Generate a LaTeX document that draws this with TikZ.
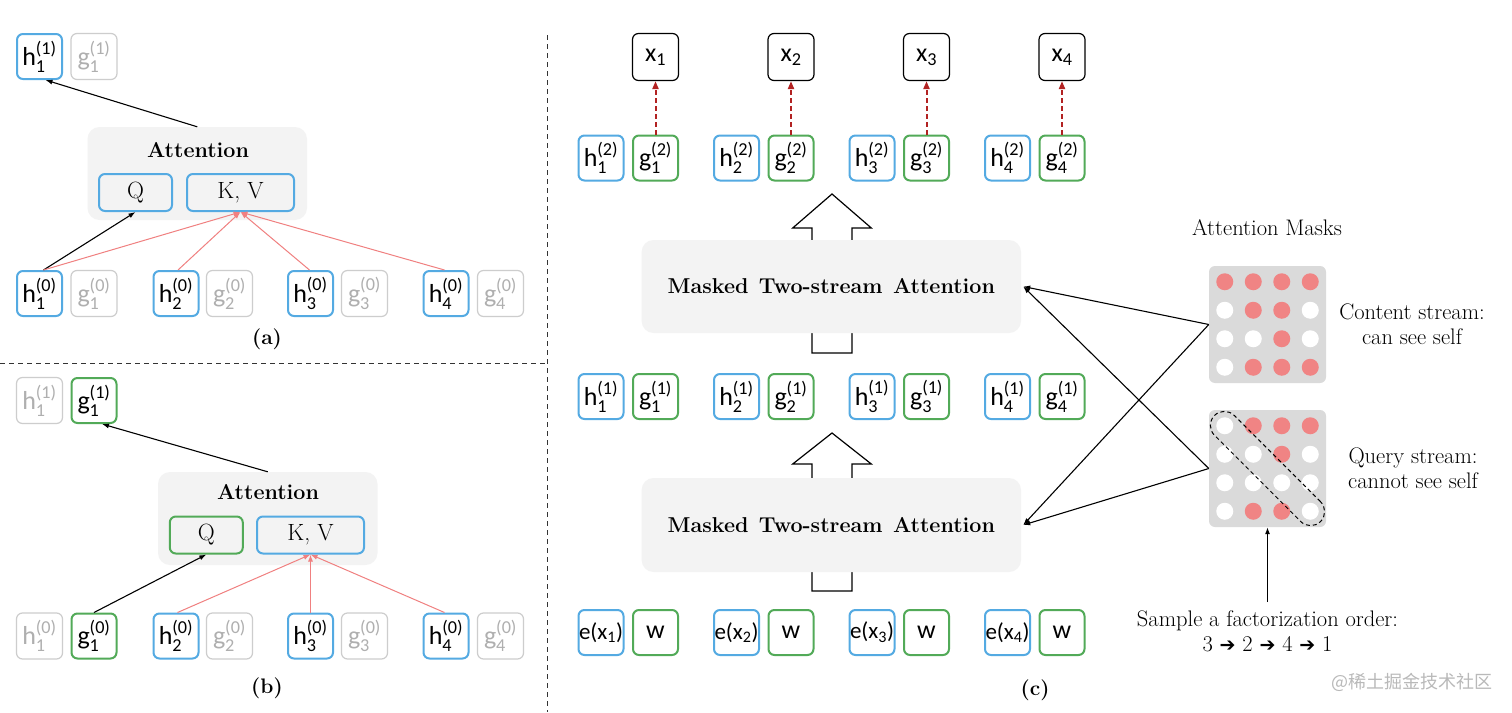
\documentclass[tikz,border=0pt]{standalone}
\usepackage{fontspec}
\usepackage{amsmath}
\usetikzlibrary{arrows.meta,calc}
\newfontfamily\boxf{Carlito}
\newfontfamily\cjkf{Noto Sans CJK SC}
\newfontfamily\djvf{DejaVu Sans}
\definecolor{cblue}{RGB}{84,170,226}
\definecolor{cgreen}{RGB}{82,170,88}
\definecolor{cgrayline}{RGB}{205,205,205}
\definecolor{cgraytext}{RGB}{175,175,175}
\definecolor{csalmon}{RGB}{240,128,128}
\definecolor{cdot}{RGB}{240,132,132}
\definecolor{cmask}{RGB}{218,218,218}
\definecolor{cattn}{RGB}{243,243,243}
\definecolor{cdred}{RGB}{178,34,34}
\definecolor{cwm}{RGB}{185,185,185}
\newcommand\hg[3]{#1$^{\text{#3}}_{\text{#2}}$}
\newcommand\rarr{{\djvf\fontsize{19}{22}\selectfont ➔}}
\begin{document}
\begin{tikzpicture}[x=1pt,y=-1pt,
 every node/.style={inner sep=0pt},
 tok/.style={rectangle, rounded corners=6pt, minimum width=45pt, minimum height=45pt, line width=2pt, font=\boxf\fontsize{26}{30}\selectfont},
 hbox/.style={tok, draw=cblue},
 gbox/.style={tok, draw=cgreen},
 offbox/.style={tok, draw=cgrayline, line width=1.2pt, text=cgraytext, minimum width=46pt, minimum height=46pt},
 xbox/.style={tok, draw=black, line width=1.2pt, minimum width=46pt, minimum height=47pt},
 qkv/.style={rectangle, rounded corners=6pt, line width=2pt, minimum height=37pt, font=\fontsize{23.5}{27}\selectfont},
 attnbg/.style={rectangle, rounded corners=12pt, fill=cattn},
 ttl/.style={font=\bfseries\fontsize{21.5}{25}\selectfont},
 lbl/.style={font=\fontsize{22.5}{25}\selectfont, align=center},
 captxt/.style={font=\bfseries\fontsize{21}{25}\selectfont},
 blk/.style={-{Latex[length=7pt,width=5pt]}, line width=1.1pt},
 sal/.style={-{Latex[length=7pt,width=5pt]}, line width=1pt, draw=csalmon},
 rdash/.style={-{Triangle[length=8pt,width=6pt]}, line width=2pt, draw=cdred, dash pattern=on 5pt off 3pt},
 hollow/.style={draw=black, fill=white, line width=1.2pt, line join=miter},
 sep/.style={line width=1pt, draw=black!80, dash pattern=on 5pt off 4pt},
 maskbg/.style={rectangle, rounded corners=6pt, fill=cmask, minimum width=117pt, minimum height=117pt},
]
\fill[white] (0,0) rectangle (1512,712);
\useasboundingbox (0,0) rectangle (1512,712);

% separators
\coordinate (s1) at (547.5,35);
\coordinate (s2) at (547.5,712);
\coordinate (s3) at (0,363);
\coordinate (s4) at (547.5,363);
\draw[sep] (s1) -- (s2);
\draw[sep] (s3) -- (s4);

% ---------------- panel (a)
\node[attnbg, minimum width=219.5pt, minimum height=93pt] (attA) at (197.25,173.5) {};
\node[ttl] (attAt) at (198,150) {Attention};
\node[qkv, draw=cblue, minimum width=73pt] (qA) at (135.5,192.5) {Q};
\node[qkv, draw=cblue, minimum width=107pt] (kvA) at (240.5,192.5) {K, V};
\node[hbox] (ahT) at (39.5,56.5) {\hg{h}{1}{(1)}};
\node[offbox] (agT) at (94,56.5) {\hg{g}{1}{(1)}};
\node[hbox] (ah1) at (39.5,293.5) {\hg{h}{1}{(0)}};
\node[offbox] (ag1) at (94,293.5) {\hg{g}{1}{(0)}};
\node[hbox] (ah2) at (176,293.5) {\hg{h}{2}{(0)}};
\node[offbox] (ag2) at (229.5,293.5) {\hg{g}{2}{(0)}};
\node[hbox] (ah3) at (310.5,293.5) {\hg{h}{3}{(0)}};
\node[offbox] (ag3) at (364.5,293.5) {\hg{g}{3}{(0)}};
\node[hbox] (ah4) at (446,293.5) {\hg{h}{4}{(0)}};
\node[offbox] (ag4) at (500.5,293.5) {\hg{g}{4}{(0)}};
\draw[blk] (attA.north) -- ([xshift=6pt]ahT.south);
\draw[blk] ([xshift=4pt]ah1.north) -- (qA.south);
\draw[sal] ([xshift=4pt]ah1.north) -- (kvA.south);
\draw[sal] ([xshift=2pt]ah2.north) -- (kvA.south);
\draw[sal] ([xshift=-1pt]ah3.north) -- (kvA.south);
\draw[sal] ([xshift=-1.5pt]ah4.north) -- (kvA.south);
\node[captxt] (capa) at (267,339) {(a)};

% ---------------- panel (b)
\node[attnbg, minimum width=219.5pt, minimum height=93pt] (attB) at (267.75,518.5) {};
\node[ttl] (attBt) at (268,492) {Attention};
\node[qkv, draw=cgreen, minimum width=73pt] (qB) at (206.3,535) {Q};
\node[qkv, draw=cblue, minimum width=107pt] (kvB) at (310.5,535) {K, V};
\node[offbox] (bhT) at (39.5,400.5) {\hg{h}{1}{(1)}};
\node[gbox] (bgT) at (94,400.5) {\hg{g}{1}{(1)}};
\node[offbox] (bh1) at (39.5,636) {\hg{h}{1}{(0)}};
\node[gbox] (bg1) at (94,636) {\hg{g}{1}{(0)}};
\node[hbox] (bh2) at (176,636) {\hg{h}{2}{(0)}};
\node[offbox] (bg2) at (229.5,636) {\hg{g}{2}{(0)}};
\node[hbox] (bh3) at (310.5,636) {\hg{h}{3}{(0)}};
\node[offbox] (bg3) at (364.5,636) {\hg{g}{3}{(0)}};
\node[hbox] (bh4) at (446,636) {\hg{h}{4}{(0)}};
\node[offbox] (bg4) at (500.5,636) {\hg{g}{4}{(0)}};
\draw[blk] (attB.north) -- ([xshift=8pt]bgT.south);
\draw[blk] (bg1.north) -- (qB.south);
\draw[sal] ([xshift=1.5pt]bh2.north) -- (kvB.south);
\draw[sal] (bh3.north) -- (kvB.south);
\draw[sal] ([xshift=-1.5pt]bh4.north) -- (kvB.south);
\node[captxt] (capb) at (267,688) {(b)};

% ---------------- panel (c)
\draw[hollow] (812,353) -- (812,228) -- (792.7,228) -- (832,194) -- (871.3,228) -- (852,228) -- (852,353) -- cycle;
\draw[hollow] (812,591) -- (812,464) -- (792.7,464) -- (832,433) -- (871.3,464) -- (852,464) -- (852,591) -- cycle;
\node[attnbg, minimum width=379.4pt, minimum height=93pt, ttl] (mt1) at (831.3,286.5) {Masked\hspace{10.5pt}Two-stream\hspace{10.5pt}Attention};
\node[attnbg, minimum width=379.4pt, minimum height=94pt, ttl] (mt2) at (831.3,525) {Masked\hspace{10.5pt}Two-stream\hspace{10.5pt}Attention};

\foreach \i/\xh in {1/601,2/736.5,3/872,4/1007.5} {
  \pgfmathsetmacro\xg{\xh+54.5}
  \node[xbox] (cx\i) at (\xg,57) {x$_{\text{\i}}$};
  \node[hbox] (ch2\i) at (\xh,158) {\hg{h}{\i}{(2)}};
  \node[gbox] (cg2\i) at (\xg,158) {\hg{g}{\i}{(2)}};
  \draw[rdash] (cg2\i.north) -- (cx\i.south);
  \node[hbox] (ch1\i) at (\xh,396.5) {\hg{h}{\i}{(1)}};
  \node[gbox] (cg1\i) at (\xg,396.5) {\hg{g}{\i}{(1)}};
  \node[hbox, font=\boxf\fontsize{23}{27}\selectfont] (ce\i) at (\xh,632.5) {e(x$_{\text{\i}}$)};
  \node[gbox] (cw\i) at (\xg,632.5) {w};
}
\node[captxt] (capc) at (1035,690) {(c)};

% masks
\node[lbl] (amt) at (1267,228) {Attention Masks};
\node[maskbg] (mk1) at (1267.5,324.5) {};
\node[maskbg] (mk2) at (1267.5,468.5) {};
\foreach \pat [count=\r] in {{1,1,1,1},{0,1,1,0},{0,0,1,0},{0,1,1,1}} {
  \foreach \v [count=\c] in \pat {
    \ifnum\v=1 \def\dc{cdot}\else\def\dc{white}\fi
    \fill[\dc] ($(mk1.center)+(\c*28.5-71.25,\r*28.5-71.25)$) circle (8.5pt);
  }
}
\foreach \pat [count=\r] in {{0,1,1,1},{0,0,1,0},{0,0,0,0},{0,1,1,0}} {
  \foreach \v [count=\c] in \pat {
    \ifnum\v=1 \def\dc{cdot}\else\def\dc{white}\fi
    \fill[\dc] ($(mk2.center)+(\c*28.5-71.25,\r*28.5-71.25)$) circle (8.5pt);
  }
}
\node[draw, line width=1pt, dash pattern=on 4pt off 3pt, rounded corners=14pt, minimum width=150pt, minimum height=28pt, rotate=-45] (diag) at (mk2.center) {};
\node[lbl] (cs) at (1412,324) {Content stream:\\can see self};
\node[lbl] (qs) at (1413,468.5) {Query stream:\\cannot see self};
\draw[blk] (mk1.west) -- ([xshift=2pt]mt1.east);
\draw[blk] (mk2.west) -- ([xshift=2pt]mt1.east);
\draw[blk] (mk1.west) -- ([xshift=2pt]mt2.east);
\draw[blk] (mk2.west) -- ([xshift=2pt]mt2.east);
\node[lbl] (samp) at (1267.5,631) {Sample a factorization order:\\3 \rarr\ 2 \rarr\ 4 \rarr\ 1};
\draw[blk] ([yshift=8pt]samp.north) -- (mk2.south);
\node[font=\cjkf\fontsize{18}{22}\selectfont, text=cwm] (wm) at (1412,682) {@稀土掘金技术社区};
\end{tikzpicture}
\end{document}
